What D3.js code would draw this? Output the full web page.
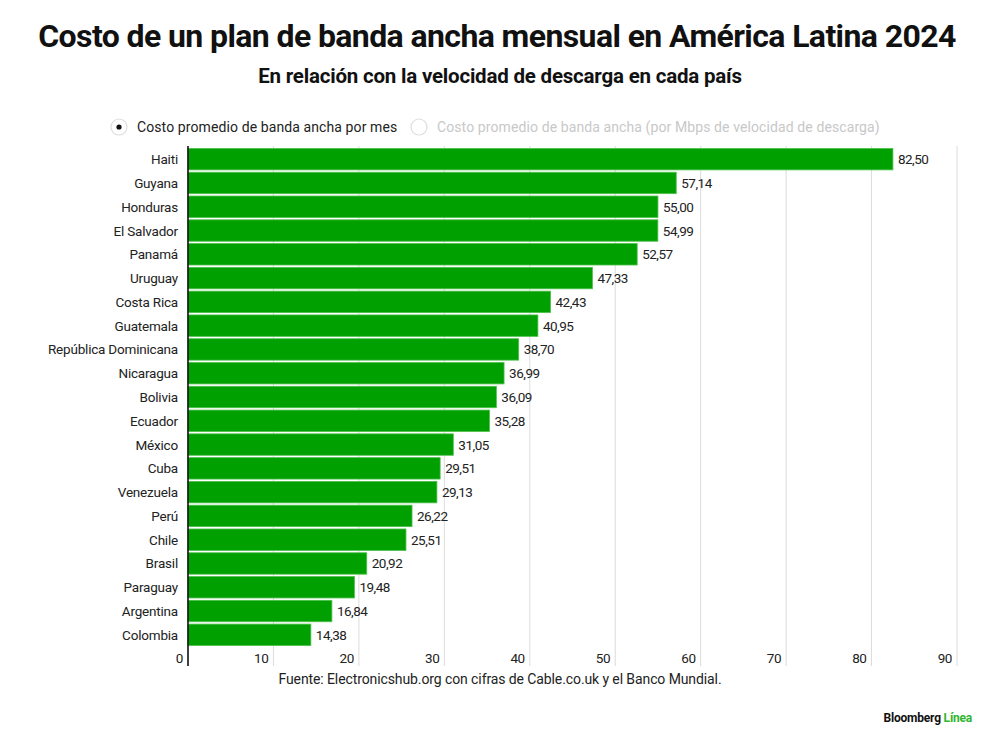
<!DOCTYPE html>
<html><head><meta charset="utf-8">
<script src="https://cdn.jsdelivr.net/npm/d3@7"></script>
<style>body{margin:0;background:#fff;} svg{display:block;}</style>
</head><body>
<svg id="c" width="1000" height="745"></svg>
<script>
const countries = ["Haiti","Guyana","Honduras","El Salvador","Panamá","Uruguay","Costa Rica","Guatemala","República Dominicana","Nicaragua","Bolivia","Ecuador","México","Cuba","Venezuela","Perú","Chile","Brasil","Paraguay","Argentina","Colombia"];
const costs = [82.50,57.14,55.00,54.99,52.57,47.33,42.43,40.95,38.70,36.99,36.09,35.28,31.05,29.51,29.13,26.22,25.51,20.92,19.48,16.84,14.38];
const xTicks = [0,10,20,30,40,50,60,70,80,90];
const titleText = "Costo de un plan de banda ancha mensual en América Latina 2024";
const subtitleText = "En relación con la velocidad de descarga en cada país";
const legendLabels = ["Costo promedio de banda ancha por mes","Costo promedio de banda ancha (por Mbps de velocidad de descarga)"];
const sourceText = "Fuente: Electronicshub.org con cifras de Cable.co.uk y el Banco Mundial.";

const svg = d3.select("#c");
const font = "Roboto, 'Liberation Sans', sans-serif";
const x = d3.scaleLinear().domain([0,90]).range([188,957]);
const y = d3.scaleBand().domain(countries).range([148,646]).paddingInner(0.1).paddingOuter(0.02);

svg.append("text").attr("x",497).attr("y",47).attr("text-anchor","middle")
  .attr("font-family",font).attr("font-weight",700).attr("font-size",32).attr("letter-spacing",-0.6)
  .attr("fill","#111").text(titleText);
svg.append("text").attr("x",500).attr("y",83).attr("text-anchor","middle")
  .attr("font-family",font).attr("font-weight",700).attr("font-size",20.5).attr("letter-spacing",-0.2)
  .attr("fill","#111").text(subtitleText);

// legend
const lg = svg.append("g").attr("font-family",font).attr("font-size",14).attr("letter-spacing",0.1);
lg.append("circle").attr("cx",119).attr("cy",127).attr("r",8).attr("fill","#fff").attr("stroke","#ddd").attr("stroke-width",1.2);
lg.append("circle").attr("cx",119).attr("cy",127).attr("r",2.6).attr("fill","#111");
lg.append("text").attr("x",137).attr("y",132).attr("fill","#222").text(legendLabels[0]);
lg.append("circle").attr("cx",419).attr("cy",127).attr("r",8).attr("fill","#fff").attr("stroke","#ddd").attr("stroke-width",1.2);
lg.append("text").attr("x",437).attr("y",132).attr("fill","#c8c8c8").text(legendLabels[1]);

// grid
svg.append("g").selectAll("line").data(xTicks.slice(1)).join("line")
  .attr("x1",d=>x(d)).attr("x2",d=>x(d)).attr("y1",146).attr("y2",666)
  .attr("stroke","#dcdcdc").attr("stroke-width",1);

// tick labels
svg.append("g").selectAll("text").data(xTicks).join("text")
  .attr("x",d=>x(d)-5).attr("y",663).attr("text-anchor","end")
  .attr("font-family",font).attr("font-size",13.5).attr("letter-spacing",-0.4).attr("fill","#222").text(d=>d);

// bars
svg.append("g").selectAll("rect").data(countries).join("rect")
  .attr("x",x(0)).attr("y",d=>y(d)).attr("height",y.bandwidth())
  .attr("width",(d,i)=>x(costs[i])-x(0))
  .attr("fill","#00a000").attr("stroke","#4cc04c").attr("stroke-width",0.8);

// value labels
svg.append("g").selectAll("text").data(countries).join("text")
  .attr("x",(d,i)=>x(costs[i])+5).attr("y",d=>y(d)+y.bandwidth()/2+5)
  .attr("font-family",font).attr("font-size",13.5).attr("letter-spacing",-0.5).attr("fill","#222")
  .text((d,i)=>d3.format(".2f")(costs[i]).replace(".",","));

// country labels
svg.append("g").selectAll("text").data(countries).join("text")
  .attr("x",178).attr("y",d=>y(d)+y.bandwidth()/2+5).attr("text-anchor","end")
  .attr("font-family",font).attr("font-size",13.5).attr("letter-spacing",-0.2).attr("fill","#222").text(d=>d);

// axis line
svg.append("line").attr("x1",x(0)).attr("x2",x(0)).attr("y1",146).attr("y2",666).attr("stroke","#111").attr("stroke-width",1.6);

svg.append("text").attr("x",500).attr("y",684).attr("text-anchor","middle")
  .attr("font-family",font).attr("font-size",14).attr("letter-spacing",-0.1).attr("fill","#222").text(sourceText);

const brand = svg.append("text").attr("x",972).attr("y",722).attr("text-anchor","end")
  .attr("font-family",font).attr("font-weight",700).attr("font-size",12).attr("letter-spacing",-0.2);
brand.append("tspan").attr("fill","#111").text("Bloomberg ");
brand.append("tspan").attr("fill","#2fb52f").text("Línea");
</script>
</body></html>
